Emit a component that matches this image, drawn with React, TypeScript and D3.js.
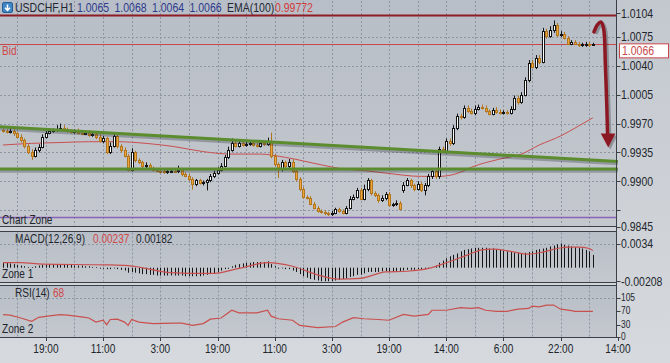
import React, { useEffect, useRef } from "react";
import * as d3 from "d3";

// hourly closes, USDCHF H1 (bar 0 = leftmost candle)
const closes = [
  0.9961, 0.9960, 0.9961, 0.9958, 0.9954, 0.9950, 0.9943, 0.9936, 0.9931, 0.9938,
  0.9942, 0.9954, 0.9959, 0.9961, 0.9962, 0.9964, 0.9965, 0.9963, 0.9961, 0.9960,
  0.9961, 0.9959, 0.9958, 0.9959, 0.9956, 0.9957, 0.9954, 0.9949, 0.9952, 0.9936,
  0.9943, 0.9955, 0.9943, 0.9938, 0.9931, 0.9914, 0.9935, 0.9926, 0.9923, 0.9918,
  0.9920, 0.9916, 0.9914, 0.9913, 0.9912, 0.9911, 0.9912, 0.9913, 0.9912, 0.9914,
  0.9909, 0.9907, 0.9903, 0.9897, 0.9901, 0.9898, 0.9899, 0.9901, 0.9906, 0.9910,
  0.9914, 0.9919, 0.9929, 0.9938, 0.9946, 0.9943, 0.9946, 0.9944, 0.9945, 0.9947,
  0.9944, 0.9943, 0.9946, 0.9945, 0.9949, 0.9931, 0.9921, 0.9915, 0.9923, 0.9918,
  0.9924, 0.9913, 0.9903, 0.9891, 0.9881, 0.9880, 0.9873, 0.9868, 0.9864, 0.9863,
  0.9861, 0.9860, 0.9862, 0.9866, 0.9864, 0.9862, 0.9868, 0.9879, 0.9881, 0.9889,
  0.9879, 0.9891, 0.9901, 0.9886, 0.9883, 0.9877, 0.9880, 0.9885, 0.9871, 0.9872,
  0.9874, 0.9867, 0.9896, 0.9901, 0.9895, 0.9891, 0.9897, 0.9890, 0.9896, 0.9906,
  0.9912, 0.9906, 0.9939, 0.9937, 0.9949, 0.9946, 0.9965, 0.9979, 0.9978, 0.9989,
  0.9985, 0.9983, 0.9988, 0.9990, 0.9989, 0.9985, 0.9982, 0.9987, 0.9984, 0.9983,
  0.9984, 0.9983, 0.9988, 1.0001, 0.9996, 1.0005, 1.0023, 1.0044, 1.0039, 1.0050,
  1.0045, 1.0082, 1.0076, 1.0083, 1.0090, 1.0077, 1.0079, 1.0074, 1.0067, 1.0069,
  1.0067, 1.0065, 1.0066, 1.0067, 1.0065, 1.0066,
];
const firstOpen = 0.9962;
// bars that opened away from the previous close (weekend gap)
const gapOpens: [number, number][] = [[112, 0.9889]];
// wick length beyond the body, in pips
const wickUp = [
  2, 2, 3, 2, 2, 3, 2, 2, 3, 3, 3, 3, 2, 3, 2, 4, 5, 3, 2, 2,
  2, 3, 2, 2, 3, 2, 2, 3, 3, 2, 4, 3, 3, 2, 3, 2, 5, 2, 2, 2,
  3, 2, 2, 2, 2, 3, 2, 2, 3, 5, 2, 2, 2, 2, 2, 2, 2, 2, 3, 3,
  3, 3, 3, 4, 6, 3, 3, 3, 3, 3, 3, 3, 3, 3, 4, 10, 2, 2, 3, 2,
  3, 3, 2, 2, 2, 2, 2, 2, 2, 2, 2, 2, 2, 2, 2, 2, 2, 3, 3, 3,
  3, 5, 3, 2, 2, 2, 3, 2, 2, 2, 3, 2, 3, 3, 2, 2, 3, 2, 2, 3,
  3, 2, 3, 3, 3, 3, 3, 3, 3, 3, 3, 3, 4, 3, 3, 3, 2, 2, 3, 3,
  2, 2, 3, 3, 3, 3, 3, 3, 3, 3, 3, 4, 3, 5, 5, 2, 3, 2, 2, 2,
  2, 2, 2, 2, 2, 2,
];
const wickDn = [
  2, 2, 2, 3, 2, 3, 3, 3, 5, 2, 3, 2, 2, 2, 2, 2, 2, 2, 2, 2,
  2, 2, 2, 2, 2, 2, 3, 2, 3, 3, 3, 2, 3, 3, 2, 2, 2, 3, 2, 2,
  2, 2, 2, 2, 2, 2, 2, 2, 2, 2, 3, 2, 3, 7, 3, 2, 3, 10, 2, 2,
  2, 2, 2, 2, 2, 2, 2, 2, 2, 2, 2, 2, 2, 2, 2, 3, 3, 11, 3, 3,
  3, 3, 3, 3, 2, 2, 2, 2, 2, 2, 2, 2, 2, 2, 2, 2, 2, 2, 2, 2,
  2, 2, 3, 3, 2, 3, 2, 3, 2, 2, 2, 2, 3, 2, 3, 3, 2, 3, 7, 3,
  3, 3, 3, 3, 3, 3, 2, 3, 3, 2, 2, 2, 3, 2, 2, 2, 2, 2, 2, 2,
  2, 2, 2, 2, 3, 2, 2, 3, 2, 3, 3, 2, 3, 2, 3, 2, 2, 2, 2, 2,
  2, 2, 2, 3, 2, 1,
];

// EMA(100) read at some bars: [bar, price]
const emaPoints: [number, number][] = [
  [0, 0.9944], [8, 0.9946], [16, 0.9947], [24, 0.9948], [32, 0.9948], [40, 0.9946],
  [48, 0.9942], [56, 0.9936], [64, 0.9933], [72, 0.9933], [79, 0.9929], [89, 0.992],
  [95, 0.9915], [101, 0.9913], [107, 0.991], [117, 0.9906], [122, 0.9906], [128, 0.9911],
  [131, 0.9917], [139, 0.9927], [145, 0.9933], [150, 0.9944], [156, 0.9955], [161, 0.9967],
  [165, 0.9977],
];

// MACD histogram per bar, in units of 0.0001
const macdHist = [
  7, 7, 6, 5, 4, 3, 2, 1, 1, 2, 3, 4, 4, 5, 5, 5, 5, 4, 4, 4, 3, 3, 3, 2,
  2, 1, 1, 0, 0, -2, -2, -1, -2, -3, -4, -7, -6, -7, -8, -9, -9, -10,
  -10, -11, -11, -11, -11, -11, -11, -11, -11, -12, -12, -12, -12, -12, -11, -10, -9, -8,
  -6, -4, -2, 0, 2, 4, 5, 6, 7, 7, 8, 8, 8, 8, 9, 5, 2, 0,
  -1, -2, -2, -4, -6, -9, -12, -14, -16, -17, -18, -19, -19, -19, -19, -18, -17, -16,
  -15, -13, -12, -10, -10, -8, -6, -6, -6, -6, -5, -5, -6, -6, -6, -6, -4, -3,
  -3, -3, -2, -2, -2, -1, 1, 3, 7, 10, 13, 16, 18, 20, 23, 25, 26, 27,
  28, 28, 28, 28, 27, 27, 26, 25, 24, 23, 22, 21, 21, 20, 21, 22, 23, 25,
  26, 27, 28, 30, 31, 33, 34, 32, 31, 30, 29, 28, 27, 25, 23, 18,
];
// MACD signal line: [bar, value in 0.0001]
const macdSignal: [number, number][] = [
  [0, 7], [5, 7], [11, 5], [29, 4], [35, 3], [47, -7], [53, -8], [59, -8], [66, -1],
  [74, 7], [81, 2], [88, -10], [94, -16], [100, -15], [107, -6], [113, -5], [119, -1],
  [124, 7], [130, 18], [134, 25], [137, 26], [142, 23], [147, 19], [151, 22], [155, 27],
  [158, 29], [161, 29], [164, 27], [165, 24],
];

// RSI(14): [bar, value]
const rsiPoints: [number, number][] = [
  [0, 59], [2, 58], [5, 50], [8, 41], [10, 52], [13, 56], [16, 59], [18, 58], [22, 53],
  [24, 50], [26, 39], [28, 44], [29, 32], [30, 46], [32, 47], [34, 39], [35, 30], [36, 46],
  [38, 39], [42, 35], [48, 36], [50, 36], [53, 30], [56, 35], [58, 47], [61, 50], [64, 71],
  [66, 64], [71, 64], [74, 71], [75, 55], [77, 48], [81, 44], [83, 30], [88, 24], [93, 27],
  [95, 39], [98, 51], [101, 48], [105, 46], [108, 44], [112, 60], [115, 55], [119, 60],
  [120, 71], [124, 71], [128, 78], [131, 76], [133, 78], [135, 71], [138, 68], [141, 68],
  [144, 74], [147, 76], [148, 82], [150, 80], [152, 85], [154, 85], [156, 74], [159, 70],
  [160, 68], [165, 68],
];

const timeTickBars = [12, 28, 44, 60, 76, 92, 108, 124, 140, 156, 172];
const timeLabels = ["19:00", "11:00", "3:00", "19:00", "11:00", "3:00", "19:00", "14:00", "6:00", "22:00", "14:00"];
const priceTicks = [1.0075, 1.004, 1.0005, 0.997, 0.9935, 0.99, 0.9865];
const priceLabels = ["1.0075", "1.0040", "1.0005", "0.9970", "0.9935", "0.9900", ""];
const rsiTicks = [105, 70, 30, 0];
const headerOHLC = ["1.0065", "1.0068", "1.0064", "1.0066"];

// drawn objects on the chart
const resistanceLevel = 1.0101;
const bidLevel = 1.0066;
const zoneLevel = 0.9856;
const trendUpper: [number, number][] = [[-0.85, 0.9966], [172, 0.9924]];
const supportLevel = 0.9915;
const arrowPath: [number, number][] = [
  [165.3, 1.0081], [166.3, 1.009], [167.3, 1.0093], [168.0, 1.0085], [168.5, 1.004],
  [168.9, 0.999], [169.1, 0.9958],
];
const arrowHead: [number, number][] = [[167.2, 0.9958], [171.3, 0.9958], [169.3, 0.9941]];

const FONT = "'Liberation Sans', Arial, sans-serif";
const NARROW = 0.84;

const App = () => {
  const ref = useRef<SVGSVGElement>(null);

  useEffect(() => {
    const svg = d3.select(ref.current);
    svg.selectAll("*").remove();

    const W = 670, H = 363, axisX = 616.5;
    const x = d3.scaleLinear().domain([0, 172]).range([3, 617.9]);
    const y = d3.scaleLinear().domain([0.9845, 1.0104]).range([226.7, 13]);
    const ym = d3.scaleLinear().domain([-0.00208, 0.0034]).range([282.5, 243.5]);
    const yr = d3.scaleLinear().domain([0, 105]).range([336.5, 297.7]);
    const px = (i: number) => Math.round(x(i));

    // condensed text (the terminal uses a narrow face)
    const ntext = (g: any, tx: number, ty: number, str: string, fill: string, size = 11.5, anchor = "start") =>
      g.append("text")
        .attr("transform", `translate(${tx},${ty}) scale(${NARROW},1)`)
        .attr("text-anchor", anchor)
        .style("font-family", FONT)
        .style("font-size", `${size}px`)
        .attr("fill", fill)
        .text(str);

    const defs = svg.append("defs");
    const bg = defs.append("linearGradient").attr("id", "bg").attr("x1", 0).attr("y1", 0).attr("x2", 0).attr("y2", 1);
    bg.append("stop").attr("offset", "0%").attr("stop-color", "#c3c8cf");
    bg.append("stop").attr("offset", "100%").attr("stop-color", "#d6d9dd");
    const pg = defs.append("linearGradient").attr("id", "panel").attr("x1", 0).attr("y1", 0).attr("x2", 0).attr("y2", 1);
    pg.append("stop").attr("offset", "0%").attr("stop-color", "#b8bec7");
    pg.append("stop").attr("offset", "100%").attr("stop-color", "#c4c8ce");

    svg.append("rect").attr("width", W).attr("height", H).attr("fill", "url(#bg)");

    const panels = [
      { top: -1, bottom: 226.5 },
      { top: 231.5, bottom: 282.5 },
      { top: 285.5, bottom: 337.5 },
    ];
    panels.forEach((p) =>
      svg.append("rect").attr("x", -1).attr("y", p.top).attr("width", axisX + 1).attr("height", p.bottom - p.top)
        .attr("fill", "url(#panel)").attr("stroke", "#3b4048").attr("stroke-width", 1)
    );

    // grid
    const grid = svg.append("g").attr("stroke", "#8d96a2").attr("stroke-dasharray", "2,2").attr("stroke-width", 1);
    const gridBars = d3.range(4, 172, 8);
    panels.forEach((p) =>
      gridBars.forEach((b) =>
        grid.append("line").attr("x1", px(b) + 0.5).attr("x2", px(b) + 0.5).attr("y1", Math.max(p.top, 0) + 1).attr("y2", p.bottom - 1)
      )
    );
    priceTicks.forEach((t) =>
      grid.append("line").attr("x1", 0).attr("x2", axisX).attr("y1", Math.round(y(t)) + 0.5).attr("y2", Math.round(y(t)) + 0.5)
    );
    grid.append("line").attr("x1", 0).attr("x2", axisX).attr("y1", Math.round(ym(0.0034)) + 0.5).attr("y2", Math.round(ym(0.0034)) + 0.5);
    grid.append("line").attr("x1", 0).attr("x2", axisX).attr("y1", Math.round(yr(105)) + 0.5).attr("y2", Math.round(yr(105)) + 0.5);

    // header
    const head = svg.append("g");
    const icon = head.append("g");
    icon.append("rect").attr("x", 2.5).attr("y", 2.5).attr("width", 10).attr("height", 10).attr("rx", 1.5).attr("fill", "#3f86c8").attr("stroke", "#2a5f96");
    icon.append("path").attr("d", "M7.5,4.5 L7.5,10 M5,7.8 L7.5,10.5 L10,7.8").attr("stroke", "#fff").attr("stroke-width", 1.5).attr("fill", "none");
    ntext(head, 15, 11.5, "USDCHF,H1", "#1f2733", 12.5);
    const ohlcX = [77, 114.5, 152, 189.5];
    headerOHLC.forEach((v, i) => ntext(head, ohlcX[i], 11.5, v, "#2c3a8c", 12.5));
    ntext(head, 227, 11.5, "EMA(100)", "#1f2733", 12.5);
    ntext(head, 275, 11.5, "0.99772", "#d23a3a", 12.5);

    // horizontal objects
    svg.append("line").attr("x1", 0).attr("x2", axisX).attr("y1", y(resistanceLevel)).attr("y2", y(resistanceLevel))
      .attr("stroke", "#8e1c24").attr("stroke-width", 2);
    svg.append("line").attr("x1", 0).attr("x2", axisX).attr("y1", Math.round(y(bidLevel)) + 0.5).attr("y2", Math.round(y(bidLevel)) + 0.5)
      .attr("stroke", "#c8484c").attr("stroke-width", 1);
    svg.append("line").attr("x1", 0).attr("x2", axisX).attr("y1", y(zoneLevel)).attr("y2", y(zoneLevel))
      .attr("stroke", "#8a62b6").attr("stroke-width", 1.5);

    // EMA
    const priceLine = d3.line<[number, number]>().x((d) => x(d[0])).y((d) => y(d[1])).curve(d3.curveMonotoneX);
    svg.append("path").attr("d", priceLine(emaPoints)).attr("fill", "none").attr("stroke", "#c9504f").attr("stroke-width", 1);

    // candles
    const openOf = (i: number) => {
      const g = gapOpens.find((d) => d[0] === i);
      if (g) return g[1];
      return i === 0 ? firstOpen : closes[i - 1];
    };
    const candles = svg.append("g");
    closes.forEach((c, i) => {
      const o = openOf(i);
      const hi = Math.max(o, c) + wickUp[i] * 0.0001;
      const lo = Math.min(o, c) - wickDn[i] * 0.0001;
      const cx = px(i);
      const bull = c > o;
      const doji = Math.abs(c - o) < 0.00005;
      const col = doji ? "#111" : bull ? "#141414" : "#b2761f";
      candles.append("line").attr("x1", cx + 0.5).attr("x2", cx + 0.5).attr("y1", y(hi)).attr("y2", y(lo)).attr("stroke", col);
      if (doji) {
        const yy = Math.round(y(c)) + 0.5;
        candles.append("line").attr("x1", cx - 1).attr("x2", cx + 2).attr("y1", yy).attr("y2", yy).attr("stroke", "#111");
      } else {
        const y0 = Math.round(y(Math.max(o, c)));
        const y1 = Math.round(y(Math.min(o, c)));
        candles.append("rect").attr("x", cx - 0.5).attr("y", y0 + 0.5).attr("width", 2).attr("height", Math.max(1, y1 - y0))
          .attr("fill", bull ? "#ffffff" : "#f0a43c").attr("stroke", col);
      }
    });

    // trend lines with shadow
    const drawGreen = (pts: [number, number][]) => {
      svg.append("line").attr("x1", x(pts[0][0])).attr("x2", x(pts[1][0])).attr("y1", y(pts[0][1]) + 2).attr("y2", y(pts[1][1]) + 2)
        .attr("stroke", "rgba(40,45,55,0.3)").attr("stroke-width", 3.5);
      svg.append("line").attr("x1", x(pts[0][0])).attr("x2", x(pts[1][0])).attr("y1", y(pts[0][1])).attr("y2", y(pts[1][1]))
        .attr("stroke", "#5b8c2e").attr("stroke-width", 3);
    };
    drawGreen(trendUpper);
    drawGreen([[-0.85, supportLevel], [172, supportLevel]]);

    // arrow annotation
    const arrowLine = d3.line<[number, number]>().x((d) => x(d[0])).y((d) => y(d[1])).curve(d3.curveCatmullRom);
    const head3 = arrowHead.map((d) => [x(d[0]), y(d[1])].join(",")).join(" ");
    const shadow = svg.append("g").attr("transform", "translate(2,2)").attr("opacity", 0.25);
    shadow.append("path").attr("d", arrowLine(arrowPath)).attr("fill", "none").attr("stroke", "#000").attr("stroke-width", 3.5);
    shadow.append("polygon").attr("points", head3).attr("fill", "#000");
    svg.append("path").attr("d", arrowLine(arrowPath)).attr("fill", "none").attr("stroke", "#8c1823").attr("stroke-width", 3.5).attr("stroke-linecap", "round");
    svg.append("polygon").attr("points", head3).attr("fill", "#8c1823");

    // MACD
    const mac = svg.append("g");
    macdHist.forEach((v, i) => {
      mac.append("line").attr("x1", px(i) + 0.5).attr("x2", px(i) + 0.5).attr("y1", ym(0)).attr("y2", ym(v * 0.0001) + (v === 0 ? 1 : 0))
        .attr("stroke", "#151515");
    });
    const sigLine = d3.line<[number, number]>().x((d) => x(d[0])).y((d) => ym(d[1] * 0.0001)).curve(d3.curveMonotoneX);
    mac.append("path").attr("d", sigLine(macdSignal)).attr("fill", "none").attr("stroke", "#c9504f").attr("stroke-width", 1.2);

    // RSI
    const rsiLine = d3.line<[number, number]>().x((d) => x(d[0])).y((d) => yr(d[1]));
    svg.append("path").attr("d", rsiLine(rsiPoints)).attr("fill", "none").attr("stroke", "#c9504f").attr("stroke-width", 1.2);

    // axis line + ticks
    const ax = svg.append("g").attr("stroke", "#3b4048");
    ax.append("line").attr("x1", axisX).attr("x2", axisX).attr("y1", 0).attr("y2", 338);
    const tickYs = [
      ...priceTicks.map((t) => y(t)), y(1.0104), y(0.9845),
      ym(0.0034), ym(-0.00208) - 1.5,
      ...rsiTicks.map((v) => yr(v)),
    ];
    tickYs.forEach((t) => ax.append("line").attr("x1", axisX).attr("x2", axisX + 4).attr("y1", Math.round(t) + 0.5).attr("y2", Math.round(t) + 0.5));
    timeTickBars.forEach((b) => ax.append("line").attr("x1", px(b) + 0.5).attr("x2", px(b) + 0.5).attr("y1", 338).attr("y2", 341));

    const lab = svg.append("g");
    const AXC = "#22262c";
    const rightLabel = (txt: string, yy: number, size = 12.5) => ntext(lab, 621, yy + size * 0.36, txt, AXC, size);
    priceTicks.forEach((t, i) => priceLabels[i] && rightLabel(priceLabels[i], y(t)));
    rightLabel("1.0104", y(1.0104));
    rightLabel("0.9845", y(0.9845));
    rightLabel("0.0034", ym(0.0034));
    rightLabel("-0.00208", ym(-0.00208) - 1.5);
    // small RSI labels, nudged apart so 30 and 0 stay clear of each other
    const rsiNudge: Record<number, number> = { 105: 0, 70: 0, 30: -1, 0: -0.5 };
    rsiTicks.forEach((v) => rightLabel(String(v), yr(v) + rsiNudge[v], 10));

    // bid price box
    const by = y(bidLevel);
    svg.append("rect").attr("x", 619.5).attr("y", by - 0.5).attr("width", 49).attr("height", 14).attr("fill", "#ffffff").attr("stroke", "#c8484c");
    ntext(svg, 622, by + 11, "1.0066", "#c8484c", 12.5);

    // time labels
    timeTickBars.forEach((b, i) => ntext(lab, x(b), 353, timeLabels[i], AXC, 12, "middle"));

    // panel captions
    const cap = svg.append("g");
    ntext(cap, 2, 55, "Bid", "#d04848", 12);
    ntext(cap, 2, 224, "Chart Zone", AXC, 12);
    ntext(cap, 15, 242.5, "MACD(12,26,9)", AXC, 12);
    ntext(cap, 93, 242.5, "0.00237", "#d04848", 12);
    ntext(cap, 136, 242.5, "0.00182", AXC, 12);
    ntext(cap, 2, 278, "Zone 1", AXC, 12);
    ntext(cap, 15, 296.5, "RSI(14)", AXC, 12);
    ntext(cap, 53, 296.5, "68", "#d04848", 12);
    ntext(cap, 2, 332.5, "Zone 2", AXC, 12);
  }, []);

  return (
    <svg ref={ref} width={670} height={363} style={{ position: "absolute", left: 0, top: 0, display: "block" }} />
  );
};

export default App;
